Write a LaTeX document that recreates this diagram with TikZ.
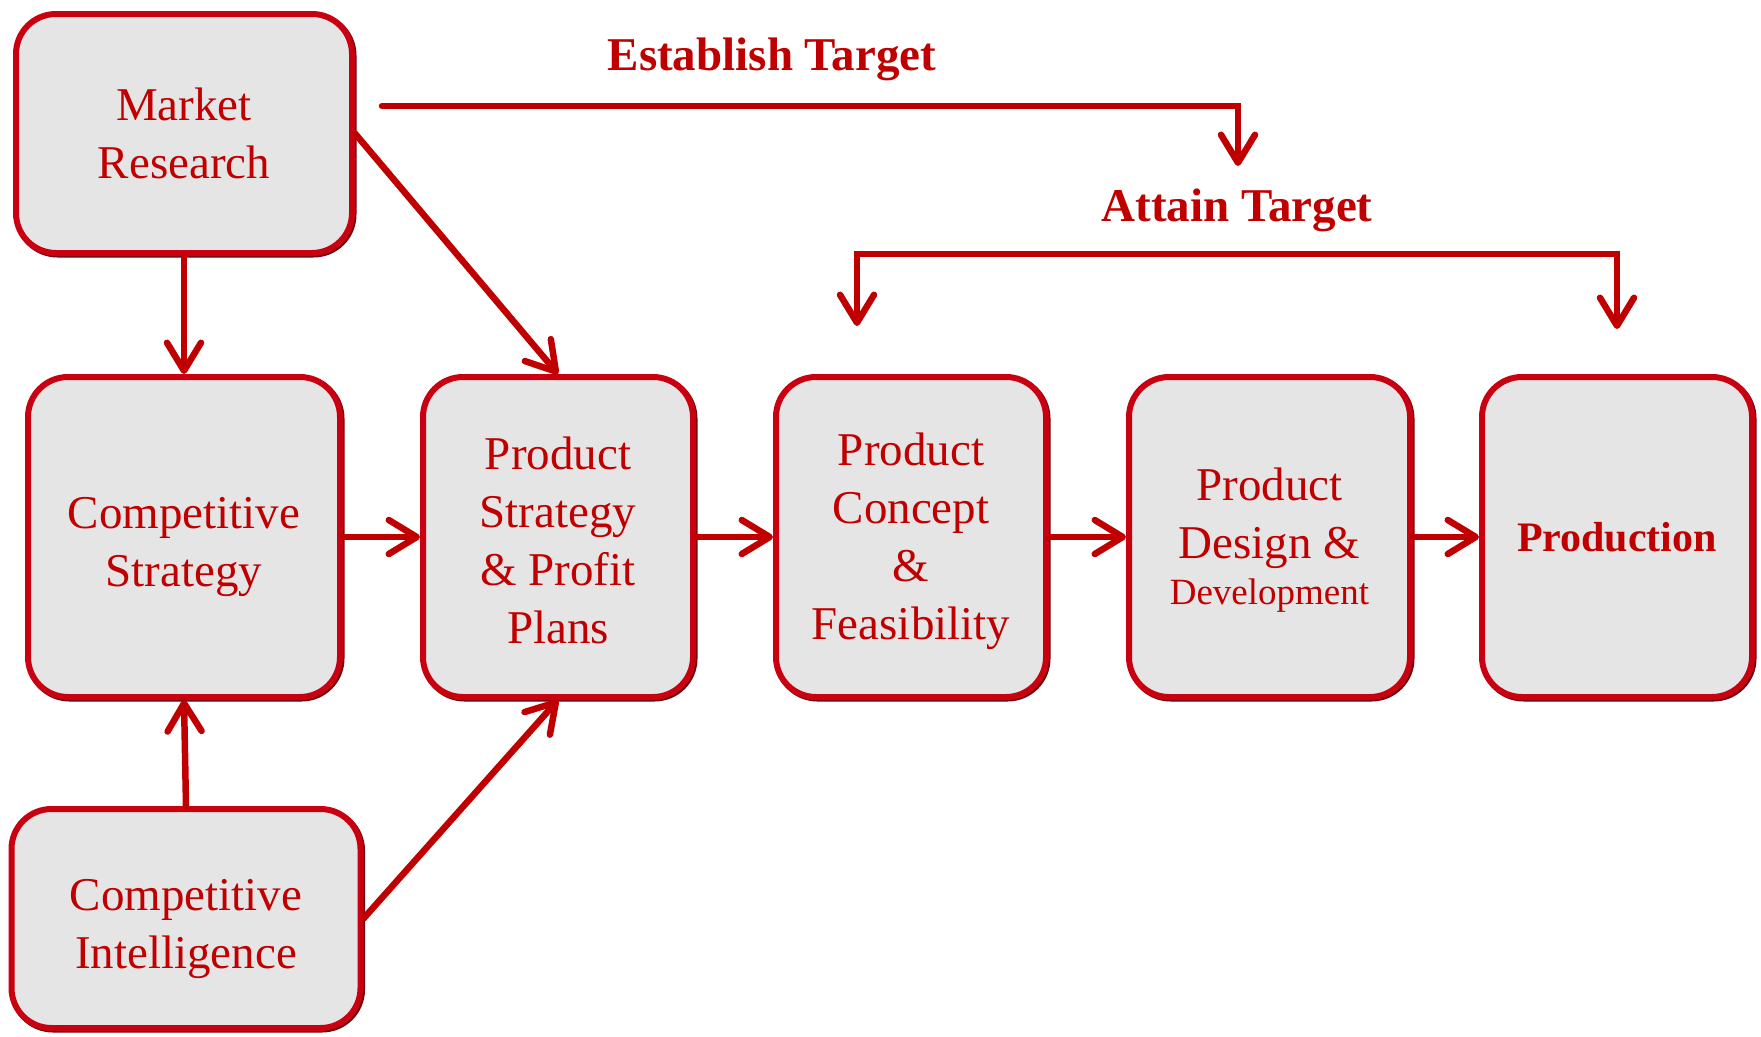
\documentclass[tikz,border=0pt]{standalone}
\usepackage{fontspec}
\setmainfont{Liberation Serif}
\usetikzlibrary{positioning,arrows.meta}
\definecolor{flowred}{RGB}{192,0,0}
\definecolor{edgered}{RGB}{200,0,16}
\definecolor{rimred}{RGB}{110,0,14}

\begin{document}
\begin{tikzpicture}[x=1pt,y=-1pt,node distance=77pt,
  stage/.style={draw=edgered,line width=6pt,fill=gray!20,rounded corners=40pt,text=flowred,
    preaction={draw=rimred,line width=6pt,transform canvas={shift={(1.5pt,-1.5pt)}}},
    align=center,font=\fontsize{47}{58}\selectfont,minimum width=270pt,minimum height=320pt,inner sep=0pt},
  goal/.style={text=flowred,font=\fontsize{47}{58}\selectfont\bfseries,anchor=base,inner sep=0pt},
  flow/.style={draw=flowred,line width=6.5pt,line cap=round,
    -{Straight Barb[length=28pt,width=34pt,line cap=round,line join=round]}}]
  \useasboundingbox (0,0) rectangle (1761,1036);

  \node (cs) [stage,minimum width=312pt] at (184,537) {\rule{0pt}{52pt}Competitive\\Strategy};
  \node (mr) [stage,above=118pt of cs,minimum width=336pt,minimum height=239pt] {Market\\Research};
  \node (ci) [stage,below=106pt of cs,xshift=2pt,minimum width=349pt,minimum height=219pt] {\rule{0pt}{52pt}Competitive\\Intelligence};
  \node (ps) [stage,right=of cs] {\rule{0pt}{40pt}Product\\Strategy\\\& Profit\\Plans};
  \node (pc) [stage,right=of ps] {\rule{0pt}{42pt}Product\\Concept\\\&\\Feasibility};
  \node (pd) [stage,right=of pc,minimum width=281pt] {\rule{0pt}{38pt}Product\\Design \&\\[-12pt]{\fontsize{37}{44}\selectfont Development}};
  \node (pr) [stage,right=66pt of pd,font=\fontsize{42}{50}\selectfont\bfseries] {Production};

  \node (est) [goal] at (772,70) {Establish Target};
  \node (att) [goal] at (1237,221) {Attain Target};
  \coordinate (estfrom) at (382,106);
  \coordinate (estto) at (1238,166);
  \coordinate (attbar) at (1237,254);
  \coordinate (attto) at (857,326);

  \draw [flow] (mr) to (cs);
  \draw [flow] (mr.east) to (ps.north);
  \draw [flow] (ci.north) to (cs.south);
  \draw [flow] (ci.east) to (ps.south);
  \draw [flow] (cs) to (ps);
  \draw [flow] (ps) to (pc);
  \draw [flow] (pc) to (pd);
  \draw [flow] (pd) to (pr);
  \draw [flow] (estfrom) -| (estto);
  \draw [flow] (attbar) -| (attto);
  \draw [flow,shorten >=45pt] (attbar) -| (pr.north);
\end{tikzpicture}
\end{document}
